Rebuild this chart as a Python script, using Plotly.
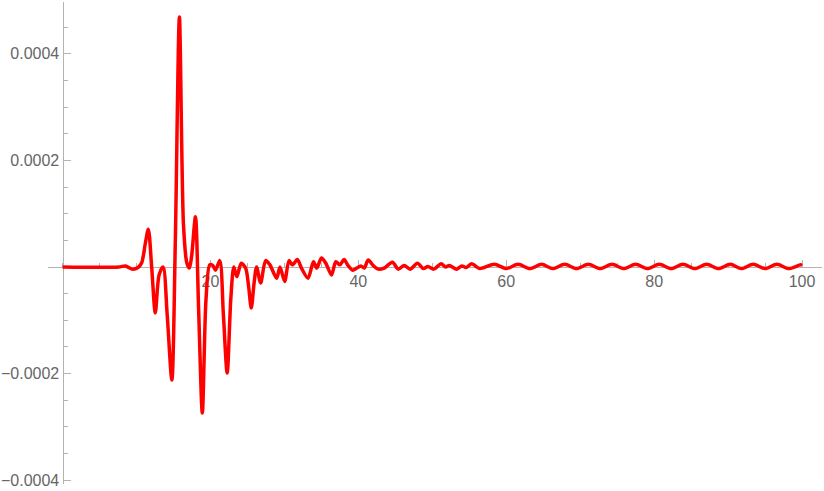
import plotly.graph_objects as go

# señal (x en unidades del eje, y en 1e-4)
t = [0, 7.6, 8.5, 9.4, 10.2, 10.7, 11.2, 11.6, 12.05, 12.54, 13.05, 13.6, 14.15, 14.78,
     15.25, 15.8, 16.35, 16.8, 17.15, 17.45, 17.97, 18.4, 18.9, 19.4, 19.9, 20.3, 20.68,
     21.26, 21.75, 22.26, 22.75, 23.16, 23.57, 24.16, 24.75, 25.15, 25.52, 25.9, 26.24,
     26.78, 27.46, 28.04, 28.95, 29.4, 30.03, 30.62, 31.08, 31.76, 32.3, 33.19, 33.93,
     34.37, 35.01, 35.6, 36.37, 36.95, 37.5, 38.07, 38.54, 39.21, 39.8, 40.34, 40.8,
     41.33, 42.06, 42.68, 43.5, 44.6, 45.4, 46.2, 47.0, 48.0, 48.8, 49.4, 50.2, 51.2,
     51.8, 52.3, 53.3, 54.0, 54.6, 55.3, 56.4, 57.0, 58.4, 60.0, 61.6, 63.2, 64.8, 66.3,
     67.9, 69.5, 71.1, 72.7, 74.3, 75.9, 77.5, 79.1, 80.7, 82.3, 83.9, 85.5, 87.1, 88.7,
     90.3, 91.8, 93.4, 95.0, 96.6, 98.2, 99.8, 100]
senal = [0, 0, 0.02, -0.04, -0.01, 0.08, 0.45, 0.71, 0.0, -0.86, -0.15, 0.0, -0.9, -2.12,
         0.5, 4.69, 0.8, 0.08, -0.02, 0.2, 0.94, -0.8, -2.74, -0.6, 0.04, 0.03, -0.06,
         0.12, -0.9, -1.99, -0.6, 0.0, -0.18, 0.07, -0.02, -0.35, -0.77, -0.3, 0.0,
         -0.3, 0.12, 0.04, -0.21, 0.0, -0.27, 0.12, 0.04, 0.14, -0.02, -0.21, 0.1,
         -0.02, 0.17, 0.07, -0.15, 0.1, 0.04, 0.14, 0.04, -0.06, -0.02, 0.02, -0.02,
         0.13, 0.02, -0.04, -0.02, 0.09, -0.04, 0.03, -0.04, 0.07, -0.03, 0.01, -0.04, 0.06,
         0.0, 0.03, -0.04, 0.02, -0.01, 0.06, -0.03, -0.01, 0.05, -0.03, 0.05, -0.03, 0.05, -0.03,
         0.05, -0.03, 0.05, -0.03, 0.05, -0.03, 0.05, -0.03, 0.05, -0.03, 0.05, -0.03, 0.05, -0.03,
         0.05, -0.03, 0.05, -0.03, 0.05, -0.03, 0.04, 0.03]

ytick_vals = [-0.0004, -0.0002, 0.0002, 0.0004]
ytick_text = ['\u22120.0004', '\u22120.0002', '0.0002', '0.0004']
xtick_vals = [20, 40, 60, 80, 100]

X_RANGO = [-1.97, 102.7]
Y_RANGO = [-0.000407, 0.000497]

GRIS_EJE = '#b3b3b3'
GRIS_TEXTO = '#666666'

fig = go.Figure()
fig.add_trace(go.Scatter(
    x=t,
    y=[v * 1e-4 for v in senal],
    mode='lines',
    line=dict(color='#ff0000', width=3.5, shape='spline', smoothing=0.8),
    showlegend=False,
))

# ejes cruzando en el origen, como en el original
pos_x_eje = (0 - Y_RANGO[0]) / (Y_RANGO[1] - Y_RANGO[0])
pos_y_eje = (0 - X_RANGO[0]) / (X_RANGO[1] - X_RANGO[0])

fig.update_layout(
    width=824,
    height=491,
    paper_bgcolor='white',
    plot_bgcolor='white',
    margin=dict(l=48, r=2, t=2, b=7),
    font=dict(family='Liberation Sans, Arial, sans-serif', size=16, color=GRIS_TEXTO),
    xaxis=dict(
        range=X_RANGO,
        showgrid=False,
        zeroline=False,
        showline=True,
        linecolor=GRIS_EJE,
        linewidth=1.2,
        anchor='free',
        position=pos_x_eje,
        tickmode='array',
        tickvals=xtick_vals,
        ticks='inside',
        ticklen=7,
        tickcolor=GRIS_EJE,
        minor=dict(dtick=5, tick0=0, ticks='inside', ticklen=4, tickcolor=GRIS_EJE),
        layer='below traces',
    ),
    yaxis=dict(
        range=Y_RANGO,
        showgrid=False,
        zeroline=False,
        showline=True,
        linecolor=GRIS_EJE,
        linewidth=1.2,
        anchor='free',
        position=pos_y_eje,
        tickmode='array',
        tickvals=ytick_vals,
        ticktext=ytick_text,
        ticks='inside',
        ticklen=7,
        tickcolor=GRIS_EJE,
        minor=dict(dtick=0.00005, tick0=0, ticks='inside', ticklen=4, tickcolor=GRIS_EJE),
        layer='below traces',
    ),
)

fig.write_html(
    "out.html",
    config={'displayModeBar': False},
    post_script="document.body.style.margin='0';",
)
